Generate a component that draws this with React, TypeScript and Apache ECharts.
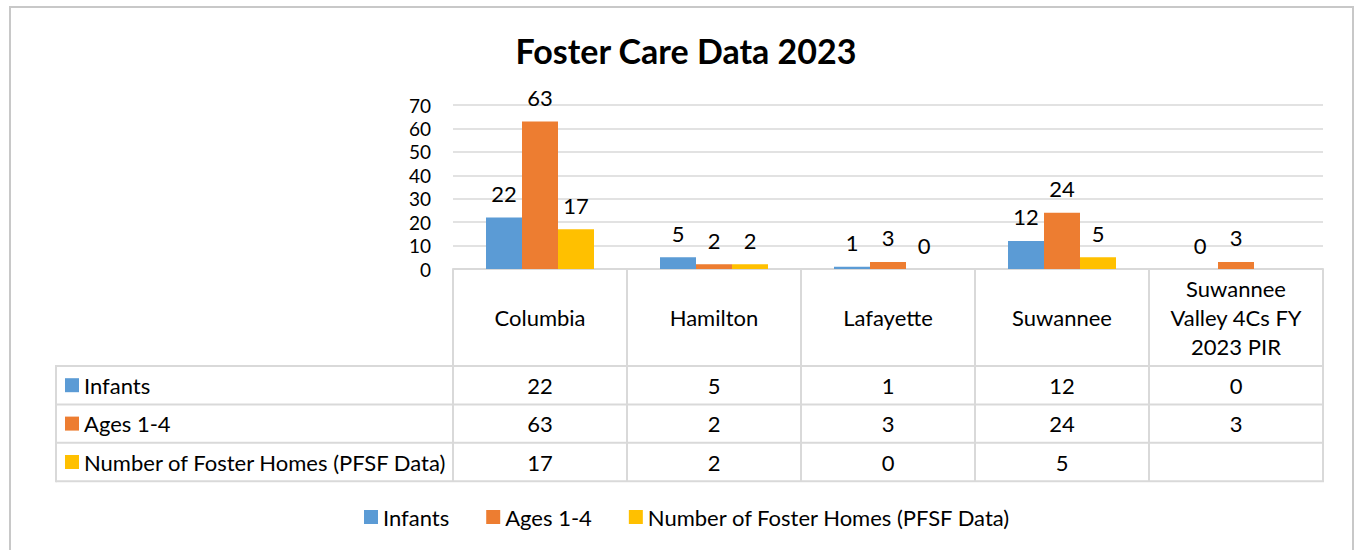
import React, { useEffect, useRef } from "react";
import * as echarts from "echarts";

const categories = ["Columbia", "Hamilton", "Lafayette", "Suwannee", "Suwannee Valley 4Cs FY 2023 PIR"];
const headerLabels = ["Columbia", "Hamilton", "Lafayette", "Suwannee", "Suwannee\nValley 4Cs FY\n2023 PIR"];
const seriesNames = ["Infants", "Ages 1-4", "Number of Foster Homes (PFSF Data)"];
const infants = [22, 5, 1, 12, 0];
const ages14 = [63, 2, 3, 24, 3];
const fosterHomes: (number | null)[] = [17, 2, 0, 5, null];
const yTicks = { min: 0, max: 70, interval: 10 };
const colors = ["#5B9BD5", "#ED7D31", "#FFC000"];

const FONT = "Lato";
const FS = 22;
const GRID_LEFT = 453;
const GRID_RIGHT = 1323;
const GRID_TOP = 105;
const AXIS_Y = 269;
const TABLE_LEFT = 56;
const HEADER_BOTTOM = 366;
const ROW_H = 38.4;
const LINE_COLOR = "#d9d9d9";

export default function App() {
  const ref = useRef<HTMLDivElement>(null);
  useEffect(() => {
    document.body.style.margin = "0";
    if (!ref.current) return;
    const chart = echarts.init(ref.current, undefined, { renderer: "svg" });
    const allSeries = [infants, ages14, fosterHomes];
    const tableBottom = HEADER_BOTTOM + ROW_H * 3;
    const option: any = {
      animation: false,
      backgroundColor: "#ffffff",
      title: {
        text: "Foster Care Data 2023",
        left: 681,
        textAlign: "center",
        top: 28,
        textStyle: { fontFamily: FONT, fontSize: 34, fontWeight: "bold", color: "#000" },
      },
      legend: {
        data: seriesNames,
        left: 364,
        top: 506,
        padding: 0,
        icon: "rect",
        itemWidth: 14,
        itemHeight: 14,
        itemGap: 37,
        textStyle: { fontFamily: FONT, fontSize: FS, color: "#000", lineHeight: 22 },
      },
      grid: {
        left: GRID_LEFT,
        right: 1356 - GRID_RIGHT,
        top: GRID_TOP,
        bottom: 550 - AXIS_Y,
        containLabel: false,
      },
      xAxis: {
        type: "category",
        data: categories,
        axisLine: { show: true, lineStyle: { color: LINE_COLOR, width: 2 } },
        axisTick: { show: true, length: tableBottom - AXIS_Y, lineStyle: { color: LINE_COLOR, width: 2 } },
        axisLabel: {
          interval: 0,
          margin: 48,
          verticalAlign: "middle",
          lineHeight: 29,
          fontFamily: FONT,
          fontSize: FS,
          color: "#000",
          formatter: (_v: string, i: number) => headerLabels[i],
        },
      },
      yAxis: {
        type: "value",
        min: yTicks.min,
        max: yTicks.max,
        interval: yTicks.interval,
        axisLine: { show: false },
        axisTick: { show: false },
        splitLine: { lineStyle: { color: LINE_COLOR, width: 1.5 } },
        axisLabel: { fontFamily: FONT, fontSize: 19, lineHeight: 19, color: "#000", margin: 22 },
      },
      series: seriesNames.map((name, si) => ({
        name,
        type: "bar",
        data: allSeries[si],
        barWidth: 36,
        barGap: "0%",
        itemStyle: { color: colors[si] },
        label: {
          show: true,
          position: "top",
          distance: 13,
          fontFamily: FONT,
          fontSize: FS,
          lineHeight: 22,
          color: "#000",
        },
      })),
    };
    chart.setOption(option);

    const graphics: any[] = [];
    graphics.push({
      type: "rect",
      shape: { x: 10, y: 7, width: 1343, height: 620 },
      style: { fill: "none", stroke: "#c8c8c8", lineWidth: 2 },
      silent: true,
    });
    const hLines = [HEADER_BOTTOM, HEADER_BOTTOM + ROW_H, HEADER_BOTTOM + ROW_H * 2, tableBottom];
    hLines.forEach((y) =>
      graphics.push({
        type: "line",
        shape: { x1: TABLE_LEFT, y1: y, x2: GRID_RIGHT + 1, y2: y },
        style: { stroke: LINE_COLOR, lineWidth: 2 },
        silent: true,
      })
    );
    graphics.push({
      type: "line",
      shape: { x1: TABLE_LEFT, y1: HEADER_BOTTOM - 1, x2: TABLE_LEFT, y2: tableBottom + 1 },
      style: { stroke: LINE_COLOR, lineWidth: 2 },
      silent: true,
    });
    seriesNames.forEach((name, si) => {
      const cy = HEADER_BOTTOM + ROW_H * (si + 0.5);
      graphics.push({
        type: "rect",
        shape: { x: 65, y: cy - 7, width: 14, height: 14 },
        style: { fill: colors[si] },
        silent: true,
      });
      graphics.push({
        type: "text",
        x: 84,
        y: cy,
        style: {
          text: name,
          fontFamily: FONT,
          fontSize: FS,
          fill: "#000",
          verticalAlign: "middle",
          align: "left",
        },
        silent: true,
      });
      allSeries[si].forEach((v, ci) => {
        if (v === null || v === undefined) return;
        const cx = chart.convertToPixel({ xAxisIndex: 0 }, categories[ci]) as number;
        graphics.push({
          type: "text",
          x: cx,
          y: cy,
          style: {
            text: String(v),
            fontFamily: FONT,
            fontSize: FS,
            fill: "#000",
            verticalAlign: "middle",
            align: "center",
          },
          silent: true,
        });
      });
    });
    chart.setOption({ graphic: graphics });
    return () => chart.dispose();
  }, []);
  return <div ref={ref} style={{ width: 1356, height: 550 }} />;
}
